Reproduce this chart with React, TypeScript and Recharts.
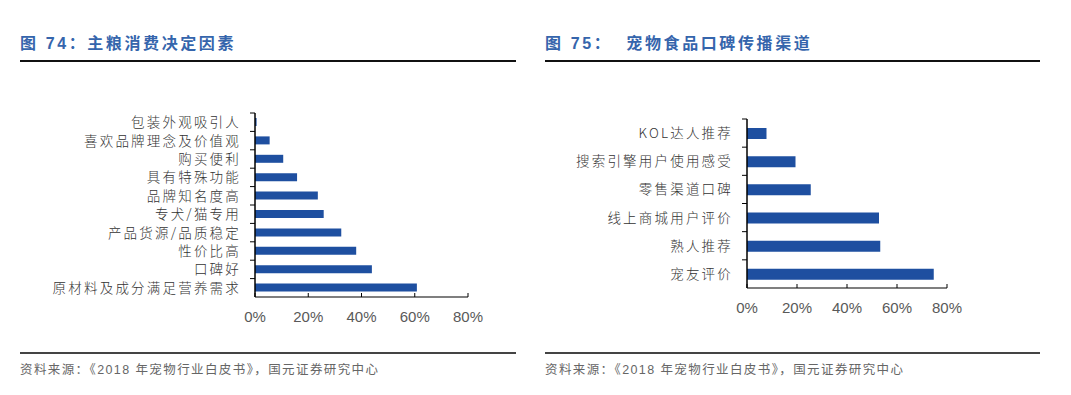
import React from "react";
import { BarChart, Bar, XAxis, YAxis } from "recharts";

const factorNames = [
  "包装外观吸引人",
  "喜欢品牌理念及价值观",
  "购买便利",
  "具有特殊功能",
  "品牌知名度高",
  "专犬/猫专用",
  "产品货源/品质稳定",
  "性价比高",
  "口碑好",
  "原材料及成分满足营养需求",
];
const factorValues = [0.6, 5.5, 10.6, 15.8, 23.6, 25.8, 32.4, 38.0, 43.9, 60.8];

const channelNames = [
  "KOL达人推荐",
  "搜索引擎用户使用感受",
  "零售渠道口碑",
  "线上商城用户评价",
  "熟人推荐",
  "宠友评价",
];
const channelValues = [7.8, 19.4, 25.5, 52.8, 53.3, 74.7];

const pctTicks = [0, 20, 40, 60, 80];

const BLUE = "#1E4FA0";
const TITLE_BLUE = "#3565AC";
const CJK = '"Noto Sans CJK SC", sans-serif';
const LATIN = '"Liberation Sans", Arial, "Noto Sans CJK SC", sans-serif';

function XTick(props: any) {
  const { x, y, payload } = props;
  return (
    <g>
      <line x1={x} x2={x} y1={y} y2={y - 4} stroke="#000" strokeWidth={1} />
      <text
        x={x}
        y={y + 25}
        textAnchor="middle"
        fontSize={15}
        fill="#595959"
        fontFamily={LATIN}
      >
        {payload.value}%
      </text>
    </g>
  );
}

function makeYTick(band: number) {
  return function YTick(props: any) {
    const { x, y, payload } = props;
    return (
      <g>
        <line
          x1={x - 5}
          x2={x}
          y1={y - band / 2}
          y2={y - band / 2}
          stroke="#000"
          strokeWidth={1}
        />
        <text
          x={x - 14}
          y={y + 5}
          textAnchor="end"
          fontSize={13.5}
          fill="#333"
          fontFamily={CJK}
          style={{ fontWeight: 300, letterSpacing: "2.2px" }}
        >
          {payload.value}
        </text>
      </g>
    );
  };
}

type PanelProps = {
  names: string[];
  values: number[];
  width: number;
  height: number;
  left: number;
  top: number;
  plotW: number;
  plotH: number;
  barSize: number;
};

function Panel({ names, values, width, height, left, top, plotW, plotH, barSize }: PanelProps) {
  const data = names.map((name, i) => ({ name, value: values[i] }));
  const band = plotH / names.length;
  const xAxisH = 30;
  return (
    <BarChart
      width={width}
      height={height}
      data={data}
      layout="vertical"
      margin={{
        top,
        left: 0,
        right: width - left - plotW,
        bottom: height - top - plotH - xAxisH,
      }}
      barSize={barSize}
    >
      <XAxis
        type="number"
        domain={[0, 80]}
        ticks={pctTicks}
        tickSize={0}
        tickMargin={0}
        height={xAxisH}
        axisLine={{ stroke: "#000", strokeWidth: 1.2 }}
        tickLine={false}
        tick={<XTick />}
        interval={0}
      />
      <YAxis
        type="category"
        dataKey="name"
        width={left}
        tickSize={0}
        tickMargin={0}
        interval={0}
        axisLine={{ stroke: "#000", strokeWidth: 1.5 }}
        tickLine={false}
        tick={makeYTick(band)}
      />
      <Bar dataKey="value" fill={BLUE} isAnimationActive={false} />
    </BarChart>
  );
}

const titleStyle: React.CSSProperties = {
  position: "absolute",
  top: 34,
  fontSize: 16,
  fontWeight: 700,
  color: TITLE_BLUE,
  fontFamily: LATIN,
  letterSpacing: "2.6px",
  whiteSpace: "pre",
  lineHeight: "20px",
};

const sourceStyle: React.CSSProperties = {
  position: "absolute",
  top: 361,
  fontSize: 12.5,
  color: "#666",
  fontFamily: LATIN,
  letterSpacing: "1.4px",
  whiteSpace: "pre",
  lineHeight: "18px",
};

function Rule({ x1, x2, y, color }: { x1: number; x2: number; y: number; color: string }) {
  return (
    <div
      style={{
        position: "absolute",
        left: x1,
        top: y,
        width: x2 - x1,
        height: 1.5,
        background: color,
      }}
    />
  );
}

export default function App() {
  return (
    <div
      style={{
        position: "absolute",
        left: 0,
        top: 0,
        width: 1071,
        height: 395,
        background: "#fff",
        overflow: "hidden",
      }}
    >
      <div style={{ ...titleStyle, left: 20 }}>图 74：主粮消费决定因素</div>
      <div style={{ ...titleStyle, left: 545 }}>图 75：  宠物食品口碑传播渠道</div>
      <Rule x1={20} x2={516} y={60} color="#111" />
      <Rule x1={545} x2={1040} y={60} color="#111" />

      <div style={{ position: "absolute", left: 0, top: 0 }}>
        <Panel
          names={factorNames}
          values={factorValues}
          width={530}
          height={340}
          left={255}
          top={113}
          plotW={213}
          plotH={184}
          barSize={8}
        />
      </div>
      <div style={{ position: "absolute", left: 530, top: 0 }}>
        <Panel
          names={channelNames}
          values={channelValues}
          width={541}
          height={340}
          left={217}
          top={119}
          plotW={200}
          plotH={169}
          barSize={11}
        />
      </div>

      <Rule x1={20} x2={516} y={352} color="#444" />
      <Rule x1={545} x2={1040} y={352} color="#444" />
      <div style={{ ...sourceStyle, left: 20 }}>资料来源：《2018 年宠物行业白皮书》，国元证券研究中心</div>
      <div style={{ ...sourceStyle, left: 545 }}>资料来源：《2018 年宠物行业白皮书》，国元证券研究中心</div>
    </div>
  );
}
